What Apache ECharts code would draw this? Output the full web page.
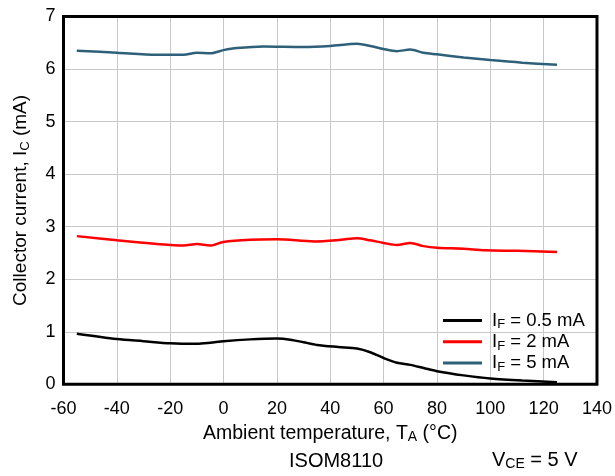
<!DOCTYPE html>
<html>
<head>
<meta charset="utf-8">
<script src="https://cdn.jsdelivr.net/npm/echarts@6/dist/echarts.min.js"></script>
<style>
html,body{margin:0;padding:0;background:#fff;}
#chart{width:615px;height:476px;}
</style>
</head>
<body>
<div id="chart"></div>
<script>
// Ambient temperature (°C) and collector current (mA) per series
const tempIF05 = [-55, -40, -30, -20, -10, -5, 0, 10, 20, 25, 30, 35, 43, 50, 55, 60, 65, 70, 75, 80, 90, 100, 112, 125];
const valIF05  = [0.96, 0.86, 0.82, 0.78, 0.77, 0.79, 0.82, 0.855, 0.87, 0.85, 0.80, 0.75, 0.71, 0.68, 0.61, 0.50, 0.41, 0.37, 0.31, 0.25, 0.17, 0.11, 0.07, 0.04];

const tempIF2 = [-55, -40, -25, -15, -10, -5, 0, 10, 20, 34, 44, 50, 55, 60, 65, 70, 75, 80, 90, 98, 110, 125];
const valIF2  = [2.82, 2.74, 2.67, 2.64, 2.67, 2.64, 2.71, 2.75, 2.76, 2.72, 2.75, 2.78, 2.74, 2.69, 2.65, 2.69, 2.63, 2.60, 2.58, 2.55, 2.54, 2.52];

const tempIF5 = [-55, -40, -25, -15, -10, -5, 0, 5, 15, 30, 40, 50, 55, 60, 65, 70, 75, 80, 90, 100, 112, 125];
const valIF5  = [6.35, 6.31, 6.27, 6.27, 6.31, 6.30, 6.36, 6.40, 6.43, 6.42, 6.44, 6.48, 6.44, 6.38, 6.34, 6.37, 6.31, 6.28, 6.22, 6.17, 6.12, 6.08];

const seriesNames = ['IF05', 'IF2', 'IF5'];
const legendLabels = {
  IF05: '{m|I}{s|F}{m| = 0.5 mA}',
  IF2: '{m|I}{s|F}{m| = 2 mA}',
  IF5: '{m|I}{s|F}{m| = 5 mA}'
};
const xTicks = {min: -60, max: 140, interval: 20};
const yTicks = {min: 0, max: 7, interval: 1};

function pairs(xs, ys) { return xs.map((x, i) => [x, ys[i]]); }

const FONT = '"Liberation Sans", Arial, sans-serif';
const chart = echarts.init(document.getElementById('chart'), null, {renderer: 'canvas'});

const richSub = (size, subSize) => ({
  m: {fontSize: size, fontFamily: FONT, color: '#000', lineHeight: size + 3},
  s: {fontSize: subSize, fontFamily: FONT, color: '#000', lineHeight: subSize, verticalAlign: 'bottom'}
});

chart.setOption({
  animation: false,
  backgroundColor: '#fff',
  grid: {
    left: 63.5, right: 15, top: 16.5, bottom: 91.7,
    show: true, borderColor: '#000', borderWidth: 3, z: 3
  },
  xAxis: {
    type: 'value', min: xTicks.min, max: xTicks.max, interval: xTicks.interval,
    axisLine: {show: false}, axisTick: {show: false},
    axisLabel: {fontSize: 18, fontFamily: FONT, color: '#000', margin: 16},
    splitLine: {show: true, lineStyle: {color: '#c8c8c8', width: 1}},
    name: '{m|Ambient temperature, T}{s|A}{m| (°C)}',
    nameLocation: 'middle', nameGap: 31,
    nameTextStyle: {rich: richSub(19.5, 14)}
  },
  yAxis: {
    type: 'value', min: yTicks.min, max: yTicks.max, interval: yTicks.interval,
    axisLine: {show: false}, axisTick: {show: false},
    axisLabel: {fontSize: 18, fontFamily: FONT, color: '#000', margin: 8},
    splitLine: {show: true, lineStyle: {color: '#c8c8c8', width: 1}},
    name: '{m|Collector current, I}{s|C}{m| (mA)}',
    nameLocation: 'middle', nameGap: 32,
    nameTextStyle: {rich: richSub(19, 13)}
  },
  legend: {
    orient: 'vertical', left: 438, top: 306,
    icon: 'rect', itemWidth: 39, itemHeight: 3, itemGap: 1,
    data: seriesNames,
    formatter: name => legendLabels[name],
    textStyle: {padding: [0, 0, 0, 5], rich: richSub(18.5, 13)}
  },
  series: [
    {name: 'IF05', type: 'line', data: pairs(tempIF05, valIF05), showSymbol: false, smooth: 0.3,
     lineStyle: {color: '#000', width: 2.5}, itemStyle: {color: '#000'}},
    {name: 'IF2', type: 'line', data: pairs(tempIF2, valIF2), showSymbol: false, smooth: 0.3,
     lineStyle: {color: '#ff0000', width: 2.5}, itemStyle: {color: '#ff0000'}},
    {name: 'IF5', type: 'line', data: pairs(tempIF5, valIF5), showSymbol: false, smooth: 0.3,
     lineStyle: {color: '#2e6079', width: 2.5}, itemStyle: {color: '#2e6079'}}
  ],
  graphic: [
    {type: 'text', left: 289, top: 451,
     style: {text: 'ISOM8110', font: '20px ' + FONT, fill: '#000'}},
    {type: 'text', left: 492, top: 450,
     style: {text: '{m|V}{s|CE}{m| = 5 V}', rich: richSub(20, 14)}}
  ]
});
</script>
</body>
</html>
